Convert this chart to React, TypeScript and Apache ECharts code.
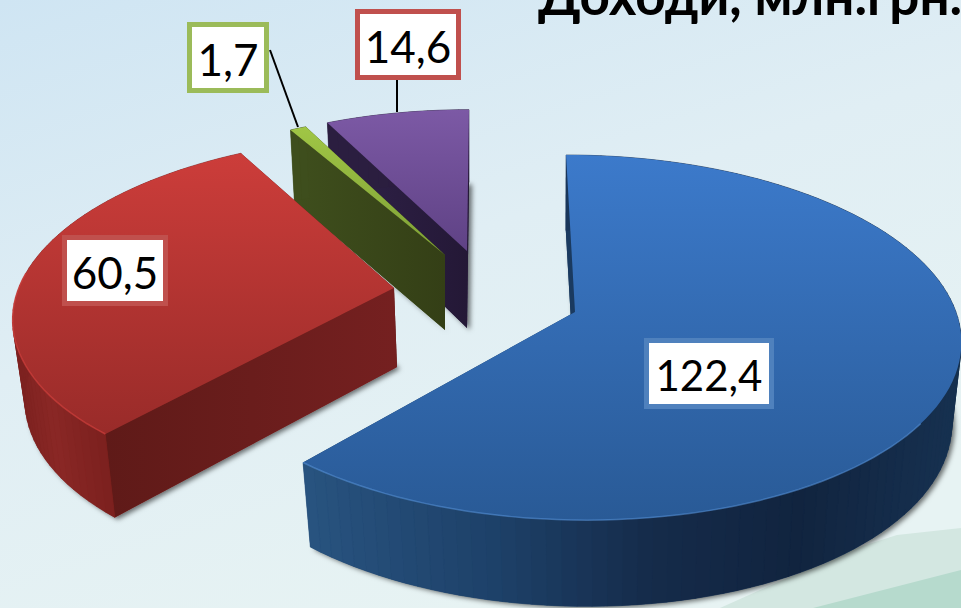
import React, { useEffect, useRef } from "react";
import * as echarts from "echarts";

const sliceValues = [122.4, 60.5, 1.7, 14.6];
const titleText = "Доходи, млн.грн.";
const drawOrder = [3, 2, 1, 0];

const total = sliceValues.reduce((a, b) => a + b, 0);
const K = 0.14, R = 381, RB = 179, DEG = Math.PI / 180;

type Geo = { ax: number; ay: number; sx: number; sy: number; sk: number; dy: number; dx: number };
const geo: Geo[] = [
  { ax: 575, ay: 312, sx: 1, sy: 1, sk: 0.057, dx: 0, dy: 80 },
  { ax: 394, ay: 288, sx: 0.985, sy: 0.97, sk: -0.085, dx: 3, dy: 79 },
  { ax: 445, ay: 255, sx: 0.925, sy: 0.9, sk: 0, dx: 0, dy: 75 },
  { ax: 467, ay: 251, sx: 0.94, sy: 0.9, sk: -0.014, dx: 0, dy: 77 },
];
const v = (c: string[], h = false) => ({
  type: "linear", x: 0, y: 0, x2: h ? 1 : 0, y2: h ? 0 : 1,
  colorStops: c.map((color, i) => ({ offset: i / (c.length - 1), color })),
});
type Stop = [number, number[]];
const skins = [
  { top: v(["#3c7acb", "#295a96"]), outer: [[305, [40, 83, 127]], [500, [29, 64, 104]], [650, [21, 43, 74]], [800, [17, 36, 63]], [950, [22, 48, 79]]] as Stop[], a: v(["#1a3a60", "#1a3a60"]), b: "#1a3a60", rim: "rgba(90,150,220,0.55)" },
  { top: v(["#cc3d3a", "#992b29"]), outer: [[13, [125, 34, 32]], [50, [138, 39, 37]], [110, [122, 32, 30]]] as Stop[], a: v(["#5f1a18", "#752020"], true), b: "#5f1a18", rim: "rgba(216,67,63,0.6)" },
  { top: v(["#a0c645", "#7e9f36"]), outer: [[0, [62, 78, 29]], [999, [62, 78, 29]]] as Stop[], a: v(["#3f4f1d", "#343f16"], true), b: "#343f16", rim: "#a0c645" },
  { top: v(["#7c59a5", "#5f4285"]), outer: [[0, [47, 33, 69]], [999, [36, 24, 54]]] as Stop[], a: v(["#30224a", "#241836"], true), b: "#241836", rim: "#7c59a5" },
];
const boxes = [
  { x: 644, y: 338, w: 130, h: 71, stroke: "#4f81bd", fs: 42 },
  { x: 62, y: 235, w: 106, h: 71, stroke: "#c0504d", fs: 44 },
  { x: 187, y: 22, w: 82, h: 71, stroke: "#9bbb59", fs: 44 },
  { x: 355, y: 9, w: 106, h: 71, stroke: "#c0504d", fs: 44 },
];
const leaders = [null, null, [270, 50, 298, 127], [397, 80, 397, 112]];

function pt(g: Geo, deg: number, bottom: boolean): number[] {
  const t = deg * DEG, s = Math.sin(t), c = Math.cos(t), d = 1 - K * s;
  const fx = bottom ? 0.975 : 1, fy = bottom ? 1.03 : 1;
  const yy = (g.sy * fy * RB * s) / d;
  const xx = (g.sx * fx * R * c) / d + g.sk * yy;
  return [g.ax + xx + (bottom ? g.dx : 0), g.ay + yy + (bottom ? g.dy : 0)];
}
function arc(g: Geo, a: number, b: number, bottom: boolean) {
  const n = Math.max(2, Math.ceil(Math.abs(b - a) / 2));
  const out: number[][] = [];
  for (let i = 0; i <= n; i++) out.push(pt(g, a + ((b - a) * i) / n, bottom));
  return out;
}
function apex(g: Geo, bottom: boolean) {
  return bottom ? [g.ax + g.dx, g.ay + g.dy] : [g.ax, g.ay];
}
function shade(stops: Stop[], x: number) {
  let c = stops[stops.length - 1][1];
  if (x <= stops[0][0]) c = stops[0][1];
  else {
    for (let i = 1; i < stops.length; i++) {
      if (x <= stops[i][0]) {
        const f = (x - stops[i - 1][0]) / (stops[i][0] - stops[i - 1][0]);
        c = stops[i - 1][1].map((q, j) => q + (stops[i][1][j] - q) * f);
        break;
      }
    }
  }
  return `rgb(${c.map((q) => Math.round(q)).join(",")})`;
}

function renderItem(params: any, api: any) {
  const idx = drawOrder[params.dataIndex];
  const value = api.value(0);
  let before = 0;
  for (let i = 0; i < idx; i++) before += sliceValues[i];
  const a0 = -90 + (before / total) * 360;
  const a1 = a0 + (value / total) * 360;
  const g = geo[idx], sk = skins[idx], box = boxes[idx];
  const poly = (points: number[][], fill: any, extra: any = {}) => ({
    type: "polygon", shape: { points }, style: { fill, ...extra },
  });
  const children: any[] = [];
  const base = [apex(g, true), ...arc(g, a0, a1, true)];
  children.push(poly(base, shade(sk.outer, g.ax), {
    shadowBlur: 5, shadowColor: "rgba(0,0,0,0.55)", shadowOffsetX: 3, shadowOffsetY: 2,
  }));
  const e0t = pt(g, a0, false), e0b = pt(g, a0, true), e1t = pt(g, a1, false), e1b = pt(g, a1, true);
  children.push(poly([apex(g, false), e1t, e1b, apex(g, true)], sk.b));
  children.push(poly([apex(g, false), e0t, e0b, apex(g, true)], sk.a));
  const topArc = arc(g, a0, a1, false), botArc = arc(g, a0, a1, true);
  for (let i = 0; i + 1 < topArc.length; i++) {
    const col = shade(sk.outer, (topArc[i][0] + topArc[i + 1][0]) / 2);
    children.push(poly([topArc[i], topArc[i + 1], botArc[i + 1], botArc[i]], col, { stroke: col, lineWidth: 0.6 }));
  }
  children.push(poly([apex(g, false), ...topArc], sk.top));
  if (idx < 2) {
    const from = idx === 0 ? 35 : Math.max(a0, 131);
    const to = idx === 0 ? a1 : 185;
    children.push({
      type: "polyline", shape: { points: arc(g, from, to, false) },
      style: { stroke: sk.rim, lineWidth: 1.5, fill: "none" },
    });
  }
  const L = leaders[idx];
  if (L) {
    children.push({
      type: "line", shape: { x1: L[0], y1: L[1], x2: L[2], y2: L[3] },
      style: { stroke: "#000", lineWidth: 2 },
    });
  }
  children.push({
    type: "rect",
    shape: { x: box.x + 2.5, y: box.y + 2.5, width: box.w - 5, height: box.h - 5 },
    style: { fill: "#fff", stroke: box.stroke, lineWidth: 5 },
  });
  children.push({
    type: "text",
    style: {
      x: box.x + box.w / 2, y: box.y + box.h / 2 + 1,
      text: value.toFixed(1).replace(".", ","),
      font: `${box.fs}px Lato`, fill: "#000", align: "center", verticalAlign: "middle",
    },
  });
  return { type: "group", children };
}

export default function App() {
  const ref = useRef<HTMLDivElement>(null);
  useEffect(() => {
    const chart = echarts.init(ref.current!, null, { renderer: "svg" });
    chart.setOption({
      animation: false,
      backgroundColor: {
        type: "linear", x: 0, y: 0, x2: 0.5, y2: 1,
        colorStops: [
          { offset: 0, color: "#cfe5f3" },
          { offset: 0.5, color: "#e0eef4" },
          { offset: 1, color: "#e7f3f3" },
        ],
      },
      title: {
        text: titleText, left: 533, top: -37,
        textStyle: { fontFamily: "Lato", fontWeight: "bold", fontSize: 53, color: "#000" },
      },
      graphic: [
        { type: "polygon", z: -2, silent: true, shape: { points: [[720, 608], [850, 550], [897, 535], [961, 528], [961, 608]] }, style: { fill: "#d3e7e1" } },
        { type: "polygon", z: -1, silent: true, shape: { points: [[813, 608], [961, 570], [961, 608]] }, style: { fill: "#b6dacd" } },
      ],
      series: [
        {
          type: "custom",
          coordinateSystem: "none",
          z: 5,
          renderItem,
          data: drawOrder.map((i) => [sliceValues[i]]),
        },
      ],
    });
    return () => chart.dispose();
  }, []);
  return <div ref={ref} style={{ position: "fixed", left: 0, top: 0, width: 961, height: 608 }} />;
}
